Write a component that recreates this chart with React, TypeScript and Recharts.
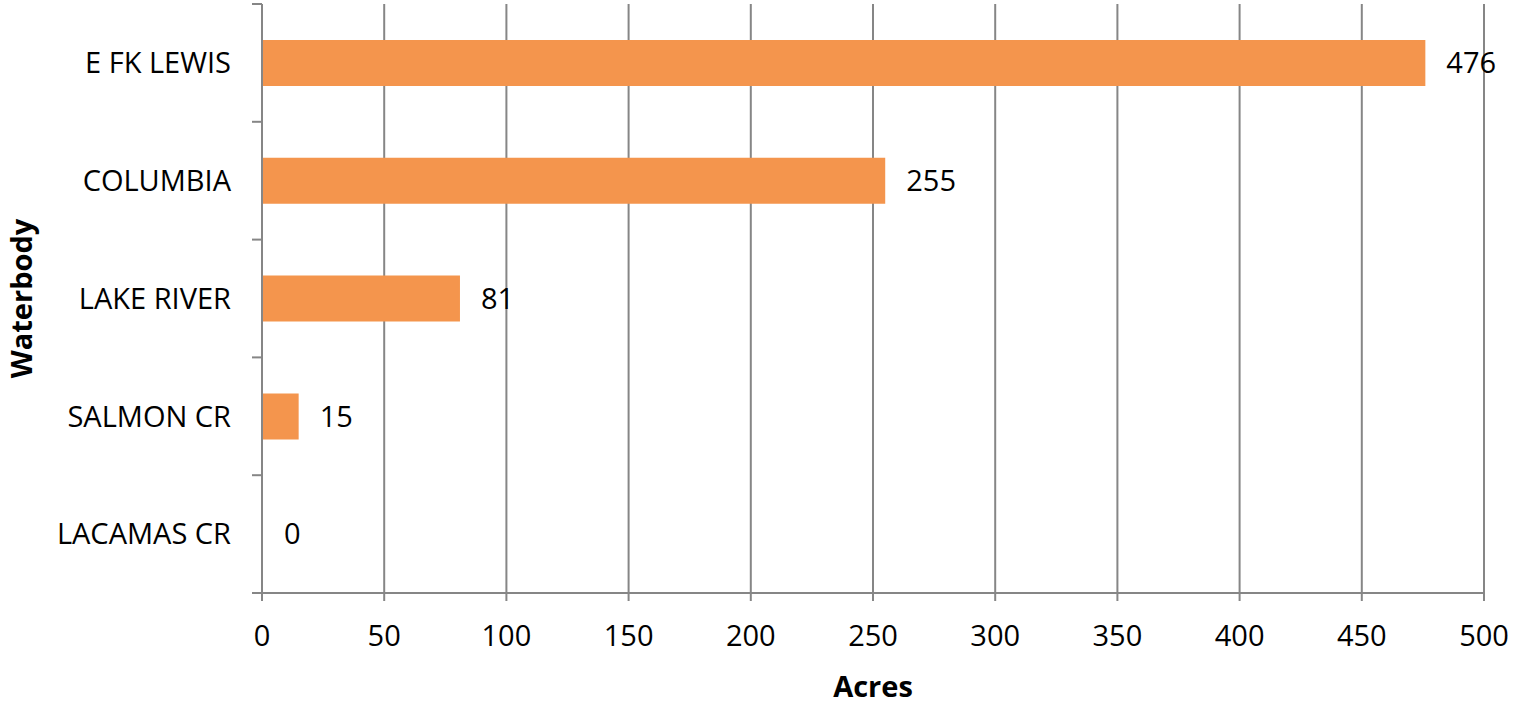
import React from 'react';
import { BarChart, Bar, XAxis, YAxis, CartesianGrid, LabelList } from 'recharts';

// Acres per waterbody, top to bottom as drawn
const waterbodies = ['E FK LEWIS', 'COLUMBIA', 'LAKE RIVER', 'SALMON CR', 'LACAMAS CR'];
const acres = [476, 255, 81, 15, 0];
const acreTicks = [0, 50, 100, 150, 200, 250, 300, 350, 400, 450, 500];

const data = waterbodies.map((name, i) => ({ name, acres: acres[i] }));

const FONT = '"Open Sans", sans-serif';
const FONT_SIZE = 29;
const GRID = '#868686';
const BAR = '#F4954D';
const TICK_SIZE = 10;
const TICK_MARGIN = 21;

// label at the band centre, tick marks on the band edges (Excel style)
const WaterbodyTick = (props: any) => {
  const { x, y, payload, index } = props;
  const half = payload.offset || 0;
  const x1 = x + TICK_MARGIN;
  const x2 = x1 + TICK_SIZE;
  return (
    <g>
      <line x1={x1} x2={x2} y1={y - half} y2={y - half} stroke={GRID} strokeWidth={2} />
      {index === waterbodies.length - 1 && (
        <line x1={x1} x2={x2} y1={y + half} y2={y + half} stroke={GRID} strokeWidth={2} />
      )}
      <text x={x} y={y} dy="0.355em" textAnchor="end" fontFamily={FONT} fontSize={FONT_SIZE} fill="#000">
        {payload.value}
      </text>
    </g>
  );
};

const YTitle = (props: any) => {
  const { viewBox } = props;
  const cx = 32;
  const cy = viewBox.y + viewBox.height / 2;
  return (
    <text
      x={0}
      y={0}
      transform={`translate(${cx},${cy}) rotate(-90)`}
      textAnchor="middle"
      fontFamily={FONT}
      fontSize={FONT_SIZE}
      fontWeight="bold"
      fill="#000"
    >
      Waterbody
    </text>
  );
};

const XTitle = (props: any) => {
  const { viewBox } = props;
  return (
    <text
      x={viewBox.x + viewBox.width / 2}
      y={viewBox.y + 104}
      textAnchor="middle"
      fontFamily={FONT}
      fontSize={FONT_SIZE}
      fontWeight="bold"
      fill="#000"
    >
      Acres
    </text>
  );
};

export default function App() {
  return (
    <div style={{ position: 'absolute', left: 0, top: 0, background: '#fff' }}>
      <BarChart
        width={1513}
        height={706}
        data={data}
        layout="vertical"
        margin={{ top: 4, right: 29, bottom: 0, left: 0 }}
      >
        <CartesianGrid horizontal={false} stroke={GRID} strokeWidth={2} />
        <XAxis
          type="number"
          dataKey="acres"
          domain={[0, 500]}
          ticks={acreTicks}
          interval={0}
          height={113}
          tickSize={8}
          tickMargin={24}
          axisLine={{ stroke: GRID, strokeWidth: 2 }}
          tickLine={{ stroke: GRID, strokeWidth: 2 }}
          tick={{ fill: '#000', fontFamily: FONT, fontSize: FONT_SIZE }}
          label={<XTitle />}
        />
        <Bar
          dataKey="acres"
          fill={BAR}
          barSize={46}
          minPointSize={(value: number) => (value === 0 ? 1 : 0)}
          isAnimationActive={false}
        >
          <LabelList
            dataKey="acres"
            position="right"
            offset={21}
            fill="#000"
            fontFamily={FONT}
            fontSize={FONT_SIZE}
          />
        </Bar>
        <YAxis
          type="category"
          dataKey="name"
          interval={0}
          width={262}
          tickSize={TICK_SIZE}
          tickMargin={TICK_MARGIN}
          tickLine={false}
          axisLine={{ stroke: GRID, strokeWidth: 2 }}
          tick={<WaterbodyTick />}
          label={<YTitle />}
        />
      </BarChart>
    </div>
  );
}
